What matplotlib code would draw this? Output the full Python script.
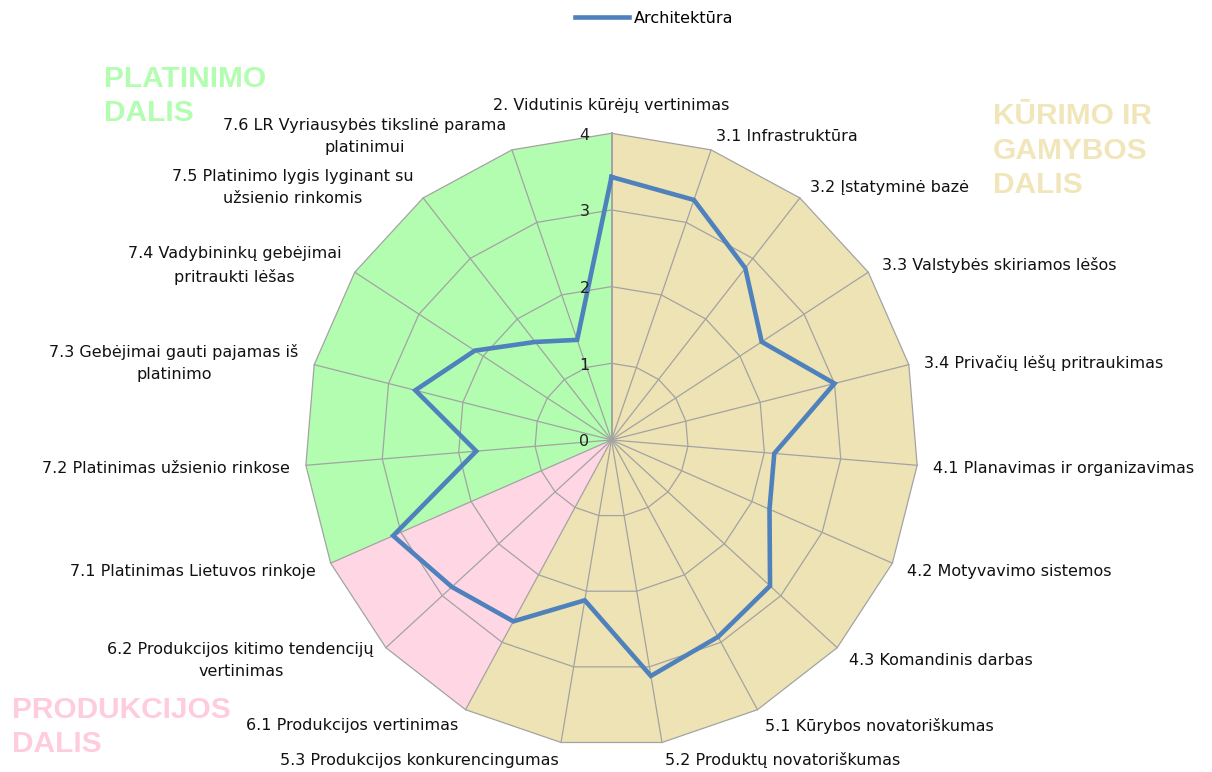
import matplotlib
matplotlib.use('Agg')
import numpy as np
import matplotlib.pyplot as plt
from matplotlib.lines import Line2D

# ── data ──────────────────────────────────────────────────────────
categories = [
    '2. Vidutinis kūrėjų vertinimas',
    '3.1 Infrastruktūra',
    '3.2 Įstatyminė bazė',
    '3.3 Valstybės skiriamos lėšos',
    '3.4 Privačių lėšų pritraukimas',
    '4.1 Planavimas ir organizavimas',
    '4.2 Motyvavimo sistemos',
    '4.3 Komandinis darbas',
    '5.1 Kūrybos novatoriškumas',
    '5.2 Produktų novatoriškumas',
    '5.3 Produkcijos konkurencingumas',
    '6.1 Produkcijos vertinimas',
    '6.2 Produkcijos kitimo tendencijų\nvertinimas',
    '7.1 Platinimas Lietuvos rinkoje',
    '7.2 Platinimas užsienio rinkose',
    '7.3 Gebėjimai gauti pajamas iš\nplatinimo',
    '7.4 Vadybininkų gebėjimai\npritraukti lėšas',
    '7.5 Platinimo lygis lyginant su\nužsienio rinkomis',
    '7.6 LR Vyriausybės tikslinė parama\nplatinimui',
]
architektura = [3.43, 3.31, 2.84, 2.34, 3.00, 2.13, 2.25, 2.81, 2.92, 3.12,
                2.12, 2.69, 2.83, 3.11, 1.77, 2.64, 2.13, 1.62, 1.38]
series_name = 'Architektūra'
ring_levels = [0, 1, 2, 3, 4]
r_max = 4

# background sectors: (first axis, last axis, colour)
sector_start = [0, 11, 13]
sector_end = [11, 13, 19]
sector_colors = ['#EEE3B4', '#FFD7E4', '#B3FDB1']
sector_titles = ['KŪRIMO IR\nGAMYBOS\nDALIS', 'PRODUKCIJOS\nDALIS', 'PLATINIMO\nDALIS']
title_colors = ['#F1E6BA', '#FFCCDD', '#B3FDB1']

n = len(categories)
theta = np.arange(n + 1) * 2 * np.pi / n   # last one closes the loop

# ── figure ────────────────────────────────────────────────────────
fig = plt.figure(figsize=(12.12, 7.72), dpi=100)
ax = fig.add_axes([0.2515, 0.0328, 0.5061, 0.7946], projection='polar')
ax.set_theta_zero_location('N')
ax.set_theta_direction(-1)
ax.set_ylim(0, r_max)
ax.set_axis_off()

# coloured sectors
for a, b, col in zip(sector_start, sector_end, sector_colors):
    th = np.concatenate([[0], theta[a:b + 1], [0]])
    rr = np.concatenate([[0], np.full(b - a + 1, r_max), [0]])
    ax.fill(th, rr, color=col, lw=0, zorder=1, clip_on=False)

# polygon grid
grid_col = '#A3A3A3'
for lvl in ring_levels[1:]:
    ax.plot(theta, np.full(n + 1, lvl), color=grid_col, lw=0.9, zorder=2, clip_on=False)
for k in range(n):
    ax.plot([theta[k], theta[k]], [0, r_max], color=grid_col,
            lw=1.4 if k == 0 else 0.9, zorder=2, clip_on=False)

# radial tick labels
for lvl in ring_levels:
    ax.annotate(str(lvl), (0, lvl), xytext=(-27, -2), textcoords='offset pixels',
                ha='center', va='center', fontsize=11.5, color='#222222', zorder=4)

# data
vals = architektura + architektura[:1]
ax.plot(theta, vals, color='#4F81BD', lw=3.3, zorder=3, clip_on=False,
        solid_joinstyle='miter')

# category labels
for k, lab in enumerate(categories):
    s, c = np.sin(theta[k]), np.cos(theta[k])
    if k == 0:
        ax.annotate(lab, (theta[k], r_max), xytext=(0, 20), textcoords='offset pixels',
                    ha='center', va='bottom', fontsize=11.5, color='#111111')
        continue
    ha = 'left' if s > 0 else 'right'
    ax.annotate(lab, (theta[k], r_max), xytext=(16 * s, 16 * c - 2), textcoords='offset pixels',
                ha=ha, va='center', multialignment='center', fontsize=11.5,
                color='#111111', linespacing=1.6)

# legend
handle = Line2D([], [], color='#4F81BD', lw=3.3)
fig.legend([handle], [series_name], loc='upper center', bbox_to_anchor=(0.54, 1.005),
           frameon=False, fontsize=11.5, handlelength=3.4, handletextpad=0.3)

# section titles
title_pos = [(0.819, 0.868), (0.010, 0.099), (0.086, 0.916)]
for txt, col, (x, y) in zip(sector_titles, title_colors, title_pos):
    fig.text(x, y, txt, color=col, fontsize=21.5, fontweight='bold',
             family='Liberation Sans', ha='left', va='top', linespacing=1.3)

fig.savefig('out.png', dpi=100)
